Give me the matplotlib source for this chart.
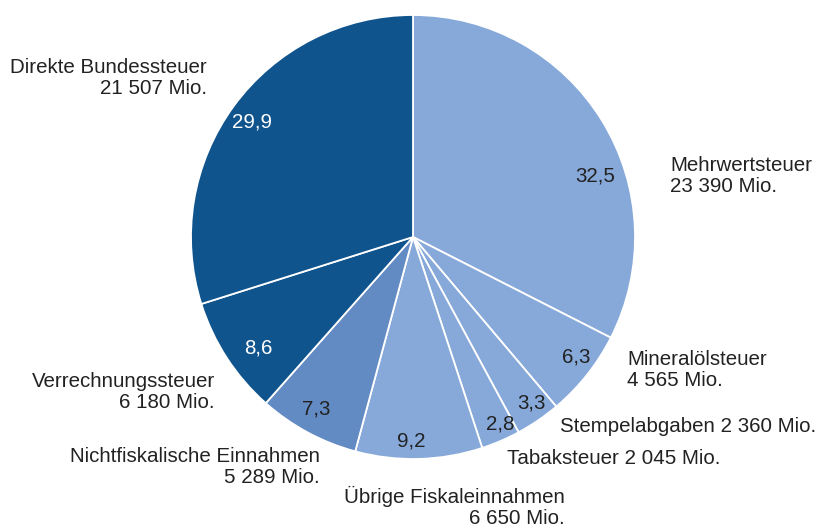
import matplotlib
matplotlib.use("Agg")
from matplotlib import pyplot as plt

plt.rcParams['font.family'] = ['Liberation Sans', 'DejaVu Sans']

# Einnahmen in Mio. CHF (im Uhrzeigersinn ab 12 Uhr)
categories = ['Mehrwertsteuer', 'Mineralölsteuer', 'Stempelabgaben', 'Tabaksteuer',
              'Übrige Fiskaleinnahmen', 'Nichtfiskalische Einnahmen',
              'Verrechnungssteuer', 'Direkte Bundessteuer']
amounts = [23390, 4565, 2360, 2045, 6650, 5289, 6180, 21507]

light = '#87A9D9'
mid = '#628AC3'
dark = '#10548E'
colors = [light, light, light, light, light, mid, dark, dark]
pct_colors = ['#222222'] * 6 + ['white', 'white']
fs = 14.8

W, H = 820, 527
fig = plt.figure(figsize=(8.2, 5.27), dpi=100)
ax = fig.add_axes([0, 0, 1, 1])

wedges, texts = ax.pie(amounts, colors=colors, startangle=90, counterclock=False,
                       radius=222, center=(413, H - 237), frame=True,
                       wedgeprops=dict(edgecolor='white', linewidth=1.3))
ax.set_xlim(0, W)
ax.set_ylim(0, H)
ax.set_aspect('equal')
ax.axis('off')

total = sum(amounts)
# positions in pixels from top-left
pct_pos = [(595, 176), (576, 357), (531, 403), (500, 424),
           (411, 441), (316, 409), (258, 348), (252, 122)]
for a, (x, y), c in zip(amounts, pct_pos, pct_colors):
    s = f"{a / total * 100:.1f}".replace('.', ',')
    ax.text(x, H - y, s, ha='center', va='center', fontsize=fs, color=c)


def mio(v):
    return f"{v:,}".replace(',', ' ') + ' Mio.'


# (x, y, ha, einzeilig)
label_pos = [(670, 176, 'left', False), (627, 370, 'left', False),
             (560, 426, 'left', True), (507, 459, 'left', True),
             (565, 507, 'right', False), (320, 467, 'right', False),
             (215, 392, 'right', False), (207, 78, 'right', False)]
for name, a, (x, y, ha, one) in zip(categories, amounts, label_pos):
    s = f"{name} {mio(a)}" if one else f"{name}\n{mio(a)}"
    ax.text(x, H - y, s, ha=ha, va='center', fontsize=fs, color='#222222',
            multialignment=ha, linespacing=1.08)

fig.savefig('out.png', dpi=100)
